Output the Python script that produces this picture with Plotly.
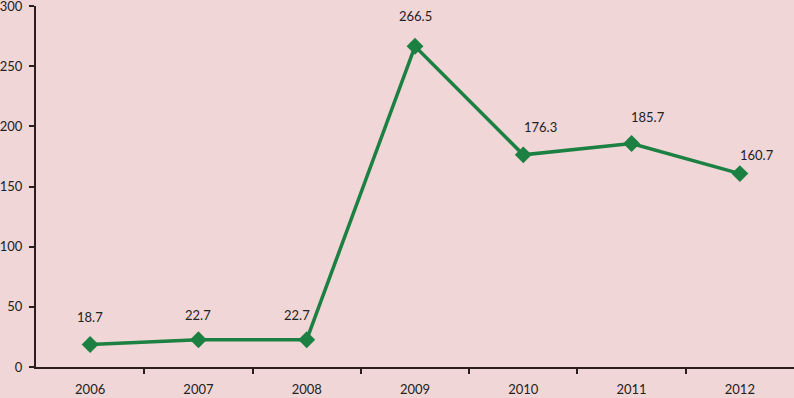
import plotly.graph_objects as go

years = ["2006", "2007", "2008", "2009", "2010", "2011", "2012"]
values = [18.7, 22.7, 22.7, 266.5, 176.3, 185.7, 160.7]
labels = ["18.7", "22.7", "22.7", "266.5", "176.3", "185.7", "160.7"]
label_dx = [0, 0, -10, 0, 17, 16, 17]
label_dy = [28, 25, 25, 30, 28, 27, 19]

bg = "#F0D6D6"
green = "#1B8041"
axis_col = "#2B1E1E"
font = dict(family="Lato, 'Open Sans', sans-serif", size=13, color="#222222")

xs = list(range(len(years)))

fig = go.Figure()
fig.add_trace(go.Scatter(
    x=xs, y=values, mode="lines+markers",
    line=dict(color=green, width=3.5),
    marker=dict(symbol="diamond", size=13, color=green),
    hoverinfo="skip", showlegend=False, cliponaxis=False,
))
for x, y, t, dx, dy in zip(xs, values, labels, label_dx, label_dy):
    fig.add_annotation(x=x, y=y, text=t, showarrow=False, xshift=dx, yshift=dy,
                       font=font)

fig.update_layout(
    width=794, height=398,
    margin=dict(l=36, r=0, t=6, b=31, autoexpand=False),
    paper_bgcolor=bg, plot_bgcolor=bg,
    font=font,
)
fig.update_xaxes(
    range=[-0.5, len(years) - 0.5], tickmode="array", tickvals=xs, ticktext=years,
    ticks="", showgrid=False, showline=True, linecolor=axis_col, linewidth=2,
    zeroline=False, automargin=False, ticklabelstandoff=9,
    minor=dict(tickmode="array", tickvals=[i + 0.5 for i in xs[:-1]],
               ticks="outside", ticklen=5, tickcolor=axis_col, tickwidth=1.5,
               showgrid=False),
)
fig.update_yaxes(
    range=[0, 300], tickvals=[0, 50, 100, 150, 200, 250, 300], showgrid=False,
    showline=True, linecolor=axis_col, linewidth=2, ticks="outside", ticklen=5,
    tickcolor=axis_col, tickwidth=1.5, zeroline=False, automargin=False,
    ticklabeloverflow="allow", ticklabelstandoff=4,
)
fig.write_html(
    "out.html",
    config={"displayModeBar": False},
    post_script="document.body.style.margin='0';document.body.style.background='%s';" % bg,
)
